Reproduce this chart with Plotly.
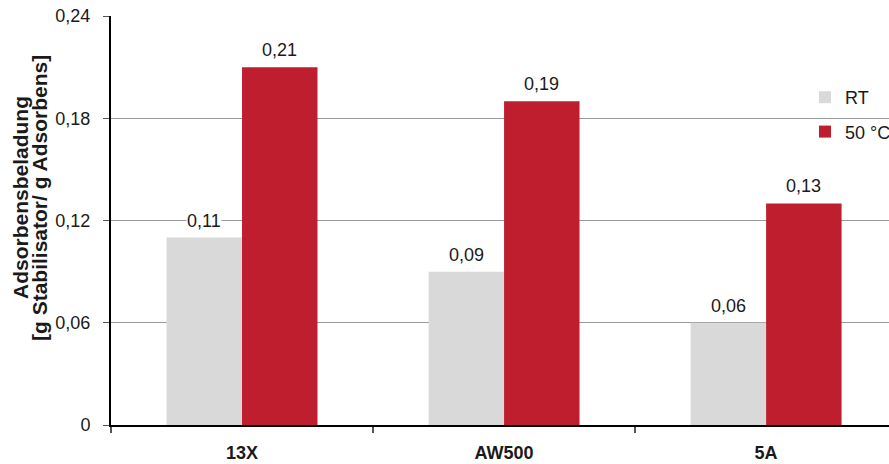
import plotly.graph_objects as go

# Adsorbent loading per adsorbent type and temperature
adsorbents = ["13X", "AW500", "5A"]
load_rt = [0.11, 0.09, 0.06]
load_50c = [0.21, 0.19, 0.13]
series_names = ["RT", "50 °C"]
y_ticks = [0, 0.06, 0.12, 0.18, 0.24]
y_tick_text = ["0", "0,06", "0,12", "0,18", "0,24"]
title_lines = ["Adsorbensbeladung", "[g Stabilisator/ g Adsorbens]"]

GREY = "#d9d9d9"
RED = "#be1e2d"
TEXT = "#1a1a1a"
FONT = "Liberation Sans, Arial, sans-serif"

fig = go.Figure()
fig.add_trace(go.Bar(x=adsorbents, y=load_rt, name=series_names[0],
                     marker=dict(color=GREY, line=dict(width=0)),
                     legendgroup="a"))
fig.add_trace(go.Bar(x=adsorbents, y=load_50c, name=series_names[1],
                     marker=dict(color=RED, line=dict(width=0)),
                     legendgroup="b"))

# value labels with a white box so they mask the gridlines
half_bar_px = 37.8
for vals, shift in ((load_rt, -half_bar_px), (load_50c, half_bar_px)):
    for cat, v in zip(adsorbents, vals):
        fig.add_annotation(x=cat, y=v, xshift=shift, yshift=6,
                           text=f"{v:.2f}".replace(".", ","),
                           showarrow=False, yanchor="bottom",
                           bgcolor="white", borderpad=0,
                           font=dict(family=FONT, size=18, color=TEXT))

# two-line rotated y-axis title
for txt, xpx in zip(title_lines, (21, 40)):
    fig.add_annotation(text=f"<b>{txt}</b>", textangle=-90,
                       xref="paper", yref="paper",
                       x=(xpx - 111) / 778, y=1 - (198 - 16) / 409,
                       xanchor="center", yanchor="middle", showarrow=False,
                       font=dict(family=FONT, size=21, color=TEXT))

fig.update_layout(
    width=889, height=464,
    margin=dict(l=111, r=0, t=16, b=39, autoexpand=False),
    paper_bgcolor="white", plot_bgcolor="white",
    barmode="group", bargap=0.424, bargroupgap=0,
    font=dict(family=FONT, size=18, color=TEXT),
    showlegend=True,
    legend=dict(x=0.892, y=0.846, xanchor="left", yanchor="top",
                bgcolor="rgba(0,0,0,0)", traceorder="grouped",
                tracegroupgap=8, font=dict(family=FONT, size=18, color=TEXT),
                itemwidth=30),
    xaxis=dict(type="category", range=[-0.5, 2.469], tickson="boundaries",
               showline=True, linecolor="black", linewidth=2,
               ticks="outside", ticklen=6, tickcolor="#555", tickwidth=2,
               ticklabelstandoff=10,
               tickfont=dict(family=FONT, size=18, color=TEXT, weight="bold"),
               showgrid=False, zeroline=False),
    yaxis=dict(range=[0, 0.24], tickvals=y_ticks, ticktext=y_tick_text,
               showline=True, linecolor="black", linewidth=2,
               ticks="outside", ticklen=6, tickcolor="#555", tickwidth=1,
               ticklabelstandoff=9,
               tickfont=dict(family=FONT, size=18, color=TEXT),
               showgrid=True, gridcolor="#9a9a9a", gridwidth=1,
               zeroline=False),
)

fig.write_html("out.html")
